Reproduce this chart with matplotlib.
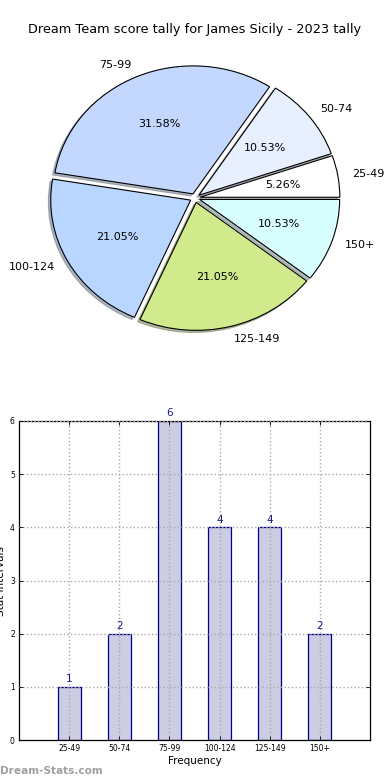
import matplotlib
matplotlib.use("Agg")
import matplotlib.pyplot as plt
import numpy as np

categories = ["25-49", "50-74", "75-99", "100-124", "125-149", "150+"]
counts = [1, 2, 6, 4, 4, 2]
pie_colors = ["#ffffff", "#e8f0ff", "#c4d8ff", "#b8d6ff", "#d0ea8c", "#d8ffff"]
title = "Dream Team score tally for James Sicily - 2023 tally"

W, H = 390, 780
fig = plt.figure(figsize=(W / 100, H / 100), dpi=100)

# ---- pie ----
cx, cy, rx, ry = 195, 198, 140, 128
lim = 1.25
axp = fig.add_axes([(cx - rx * lim) / W, 1 - (cy + ry * lim) / H, 2 * rx * lim / W, 2 * ry * lim / H])
wedges, texts, autotexts = axp.pie(
    counts, labels=categories, colors=pie_colors, explode=[0.035] * len(counts),
    autopct="%1.2f%%", startangle=0,
    shadow={"ox": -0.012, "oy": -0.012, "shade": 0.5},
    wedgeprops=dict(edgecolor="black", linewidth=0.8),
    textprops=dict(fontsize=8),
)
axp.set_aspect("auto")
axp.set_xlim(-lim, lim)
axp.set_ylim(-lim, lim)
axp.axis("off")
fig.text(0.5, 1 - 30 / H, title, ha="center", va="center", fontsize=9.3)

# ---- bar ----
left, right, top, bottom = 19, 370, 421, 740
axb = fig.add_axes([left / W, 1 - bottom / H, (right - left) / W, (bottom - top) / H])
x = np.arange(1, len(categories) + 1)
axb.bar(x, counts, width=0.46, color="#ccccE2", edgecolor="#00008b", linewidth=0.9, zorder=1)
for xi, c in zip(x, counts):
    axb.text(xi, c + 0.05, str(c), ha="center", va="bottom", fontsize=7.5, color="#1a1a8c")
axb.set_xlim(0, 7)
axb.set_ylim(0, 6)
axb.set_xticks(x)
axb.set_xticklabels(categories, fontsize=5.5)
axb.set_yticks(range(0, 7))
axb.tick_params(axis="y", labelsize=5.5)
axb.tick_params(direction="in", top=True, right=True, length=3, width=0.6, pad=3)
axb.grid(True, color="#aaaaaa", linestyle=":", linewidth=1.0, zorder=3)
axb.set_axisbelow(False)
axb.set_xlabel("Frequency", fontsize=7.5, labelpad=2)
axb.set_ylabel("Stat Intervals", fontsize=7.5, labelpad=3)
for s in axb.spines.values():
    s.set_linewidth(0.9)

fig.text(0.0, 1 - 771 / H, "Dream-Stats.com", ha="left", va="center", fontsize=7.6,
         color="#a0a0a0", fontweight="bold")

fig.savefig("out.png", dpi=100, facecolor="white")
